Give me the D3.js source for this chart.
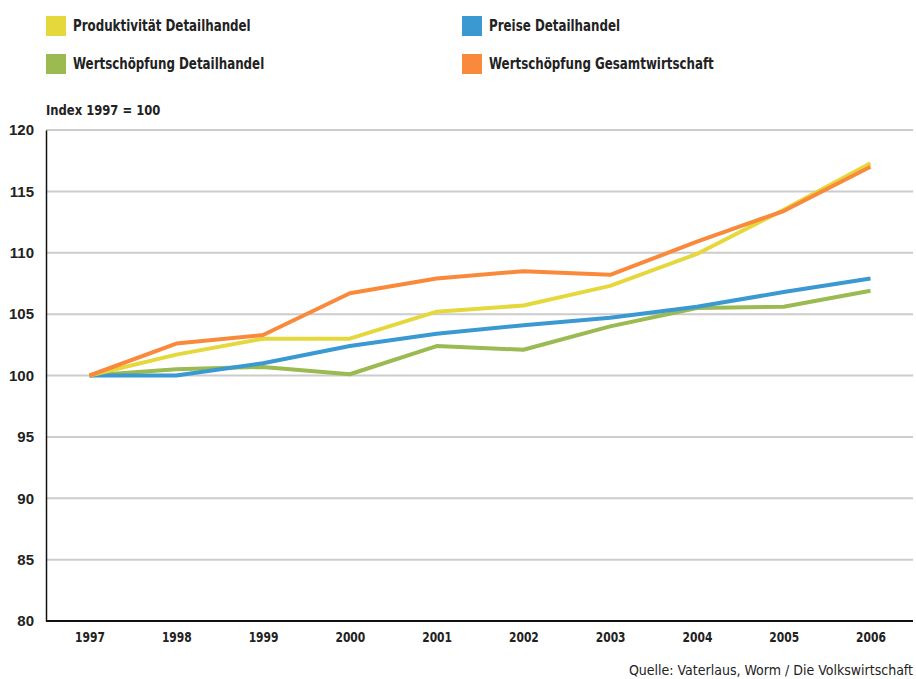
<!DOCTYPE html>
<html>
<head>
<meta charset="utf-8">
<script src="https://cdn.jsdelivr.net/npm/d3@7"></script>
<style>
  body { margin: 0; background: #fff; }
  text { font-family: "DejaVu Sans", sans-serif; font-stretch: condensed; fill: #222; }
</style>
</head>
<body>
<div id="chart"></div>
<script>
// data
var years = [1997, 1998, 1999, 2000, 2001, 2002, 2003, 2004, 2005, 2006];
var yTicks = [80, 85, 90, 95, 100, 105, 110, 115, 120];
var produktivitaet = [100, 101.7, 103.0, 103.0, 105.2, 105.7, 107.3, 109.9, 113.5, 117.3];
var preise = [100, 100.0, 101.0, 102.4, 103.4, 104.1, 104.7, 105.6, 106.8, 107.9];
var wertschoepfungDH = [100, 100.5, 100.7, 100.1, 102.4, 102.1, 104.0, 105.5, 105.6, 106.9];
var wertschoepfungGW = [100, 102.6, 103.3, 106.7, 107.9, 108.5, 108.2, 110.9, 113.4, 117.0];

var series = [
  { name: 'Produktivität Detailhandel', values: produktivitaet, color: '#e4d83d' },
  { name: 'Preise Detailhandel', values: preise, color: '#3a99d1' },
  { name: 'Wertschöpfung Detailhandel', values: wertschoepfungDH, color: '#9bba52' },
  { name: 'Wertschöpfung Gesamtwirtschaft', values: wertschoepfungGW, color: '#f98a3c' }
];

var width = 916, height = 679;

var svg = d3.select('#chart')
  .append('svg')
  .attr('width', width)
  .attr('height', height);

// scales
var x = d3.scalePoint()
  .domain(years)
  .range([89.5, 870.5]);

var y = d3.scaleLinear()
  .domain([80, 120])
  .range([621, 130]);

// gridlines
svg.append('g')
  .selectAll('line')
  .data(yTicks.filter(function (d) { return d > 80; }))
  .enter()
  .append('line')
  .attr('x1', 46)
  .attr('x2', 913)
  .attr('y1', function (d) { return y(d); })
  .attr('y2', function (d) { return y(d); })
  .attr('stroke', '#cccccc')
  .attr('stroke-width', 2);

// y axis
var yAxis = svg.append('g')
  .attr('transform', 'translate(46,0)')
  .call(d3.axisLeft(y).tickValues(yTicks).tickSize(0).tickPadding(12));
yAxis.select('.domain').attr('stroke', '#111').attr('stroke-width', 1.5);
yAxis.selectAll('text')
  .style('font-family', '"Liberation Sans", Arial, sans-serif')
  .style('font-stretch', 'normal')
  .style('font-weight', 'bold')
  .style('font-size', '15px')
  .attr('fill', '#222');

// x axis
var xAxis = svg.append('g')
  .attr('transform', 'translate(0,621)')
  .call(d3.axisBottom(x).tickSize(0).tickPadding(11).tickFormat(d3.format('d')));
xAxis.select('.domain').attr('d', 'M46,0H913').attr('stroke', '#111').attr('stroke-width', 2);
xAxis.selectAll('text')
  .style('font-family', '"DejaVu Sans", sans-serif')
  .style('font-weight', 'bold')
  .style('font-size', '14px')
  .attr('transform', 'scale(0.85,1)')
  .attr('fill', '#222');

// lines
var line = d3.line()
  .x(function (d, i) { return x(years[i]); })
  .y(function (d) { return y(d); });

svg.append('g')
  .selectAll('path')
  .data([series[2], series[1], series[0], series[3]])
  .enter()
  .append('path')
  .attr('d', function (d) { return line(d.values); })
  .attr('fill', 'none')
  .attr('stroke', function (d) { return d.color; })
  .attr('stroke-width', 4)
  .attr('stroke-linejoin', 'round');

// legend
var legend = svg.append('g')
  .selectAll('g')
  .data(series)
  .enter()
  .append('g')
  .attr('transform', function (d, i) {
    var col = i % 2, row = Math.floor(i / 2);
    return 'translate(' + (46 + col * 416) + ',' + (16 + row * 38) + ')';
  });

legend.append('rect')
  .attr('width', 20)
  .attr('height', 20)
  .attr('fill', function (d) { return d.color; });

legend.append('text')
  .attr('transform', 'translate(27,15) scale(0.88,1)')
  .style('font-weight', 'bold')
  .style('font-size', '15px')
  .text(function (d) { return d.name; });

// axis title
svg.append('text')
  .attr('transform', 'translate(46,115) scale(0.92,1)')
  .style('font-weight', 'bold')
  .style('font-size', '14px')
  .text('Index 1997 = 100');

// source
svg.append('text')
  .attr('x', 913)
  .attr('y', 675)
  .attr('text-anchor', 'end')
  .style('font-size', '14px')
  .text('Quelle: Vaterlaus, Worm / Die Volkswirtschaft');
</script>
</body>
</html>
